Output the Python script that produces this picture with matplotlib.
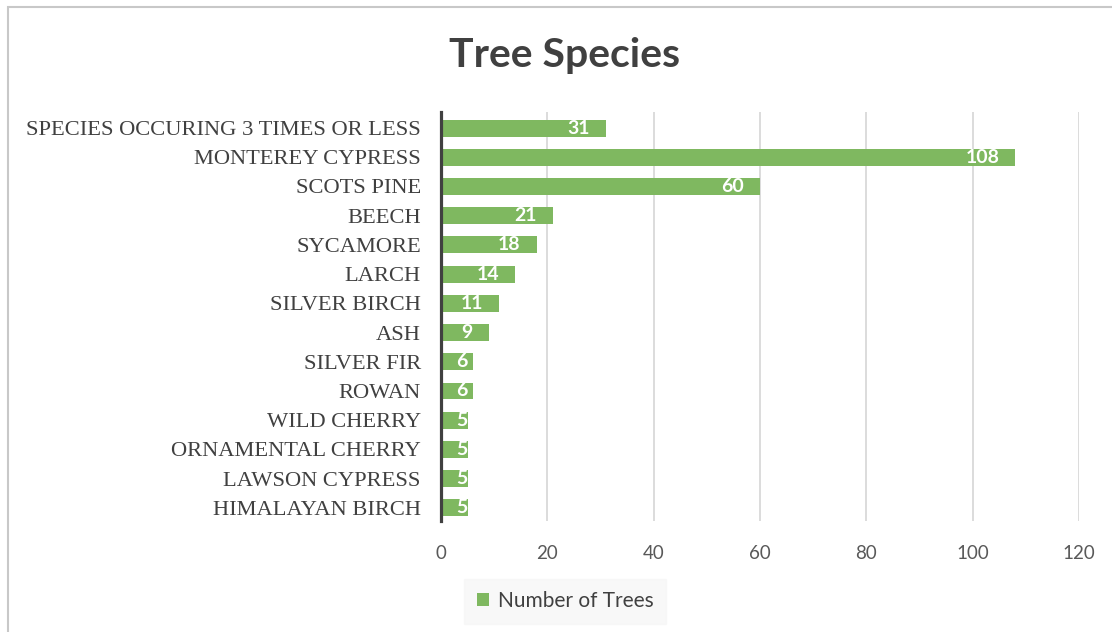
import matplotlib.pyplot as plt
from matplotlib.patches import Rectangle

species = ['SPECIES OCCURING 3 TIMES OR LESS', 'MONTEREY CYPRESS', 'SCOTS PINE',
           'BEECH', 'SYCAMORE', 'LARCH', 'SILVER BIRCH', 'ASH', 'SILVER FIR',
           'ROWAN', 'WILD CHERRY', 'ORNAMENTAL CHERRY', 'LAWSON CYPRESS',
           'HIMALAYAN BIRCH']
trees = [31, 108, 60, 21, 18, 14, 11, 9, 6, 6, 5, 5, 5, 5]
xticks = [0, 20, 40, 60, 80, 100, 120]

green = '#7FB860'
sans = ['Lato', 'DejaVu Sans']
serif = ['Liberation Serif', 'DejaVu Serif']

fig = plt.figure(figsize=(11.12, 6.32), dpi=100)
# light frame round the chart, cut off at right and bottom like the original
fig.patches.append(Rectangle((8 / 1112, -0.05), 1.05, 1 - 7 / 632 + 0.05,
                             transform=fig.transFigure, fill=False,
                             edgecolor='#C8C8C8', linewidth=1.5))

ax = fig.add_axes([441 / 1112, 1 - 521 / 632, 638 / 1112, 409 / 632])
ypos = list(range(len(species)))[::-1]
ax.barh(ypos, trees, height=0.58, color=green, label='Number of Trees', zorder=3)

for y, v in zip(ypos, trees):
    s = str(v)
    xr = max(v - 3, 3 + 2.0 * len(s))
    ax.text(xr, y, s, ha='right', va='center', color='white',
            fontsize=14, fontweight='bold', family=sans, zorder=4)

ax.set_xlim(0, 120)
ax.set_ylim(-0.45, len(species) - 0.45)
ax.set_xticks(xticks)
ax.set_yticks(ypos)
ax.set_yticklabels(species, family=serif, fontsize=16.2, color='#404040')
for lab in ax.get_xticklabels():
    lab.set_family(sans)
    lab.set_fontsize(13.5)
    lab.set_color('#595959')
ax.tick_params(axis='both', length=0)
ax.tick_params(axis='x', pad=17)
ax.tick_params(axis='y', pad=14.5)
ax.grid(axis='x', color='#D9D9D9', linewidth=1.3, zorder=0)
for side in ['top', 'right', 'bottom']:
    ax.spines[side].set_visible(False)
ax.spines['left'].set_color('#404040')
ax.spines['left'].set_linewidth(2.3)
ax.spines['left'].set_zorder(5)

fig.text(565 / 1112, 1 - 55 / 632, 'Tree Species', ha='center', va='center',
         fontsize=29.5, fontweight='bold', color='#404040', family=sans)

leg = fig.legend(loc='center', bbox_to_anchor=(565 / 1112, 1 - 601 / 632),
                 frameon=True, fancybox=False, handlelength=0.6, handleheight=0.6,
                 handletextpad=0.4, borderpad=0.6, borderaxespad=0,
                 prop={'family': sans, 'size': 15})
leg.get_frame().set_facecolor('#F7F7F7')
leg.get_frame().set_edgecolor('#F7F7F7')
for t in leg.get_texts():
    t.set_color('#404040')

fig.savefig('out.png', dpi=100)
